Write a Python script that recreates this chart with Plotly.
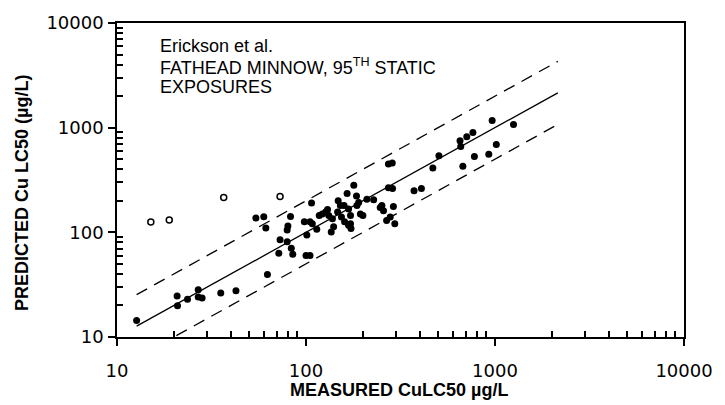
import plotly.graph_objects as go

# Filled points: measured (x) vs predicted (y), µg/L
meas = [12.7, 20.8, 20.9, 23.6, 26.9, 26.9, 28.2, 35.4, 42.6, 54.3, 59.8, 61.3, 62.5,
        82.8, 107, 80.2, 79.5, 72.9, 79.5, 83.6, 71.8, 85.1, 100, 105, 101, 98, 105,
        108, 114, 117.5, 122, 127, 132, 130, 138, 136, 147, 148, 154, 160, 165, 159,
        168, 172, 179, 185, 186, 190, 194, 200, 168, 173, 140, 228, 252, 257, 152,
        172, 279, 295, 267, 247, 290, 210, 273, 286, 273, 287, 373, 408, 469, 505,
        676, 653, 659, 709, 764, 778, 927, 966, 1016, 1253]
pred = [14.4, 24.6, 19.9, 22.9, 28.2, 24.1, 23.6, 26.3, 27.6, 137, 141, 110, 39.6,
        142, 191, 115, 105, 85, 81.5, 70.5, 63.2, 61.9, 60.1, 60.1, 94.2, 126, 126,
        121, 107, 145, 150, 156, 145, 165, 135, 101, 156, 200, 140, 126, 235, 180,
        167, 145, 281, 223, 180, 193, 150, 145, 117, 109, 113, 205, 180, 161, 180,
        121, 140, 121, 130, 173, 177, 207, 449, 459, 267, 262, 249, 262, 412, 538,
        428, 750, 659, 818, 897, 531, 557, 1172, 692, 1075]

# Open circles (outliers)
out_meas = [15.1, 18.9, 36.7, 72.9]
out_pred = [125.6, 131, 215, 220]

# 1:1 line and factor-of-two bounds
line_x = [12.7, 2150]
line_y = [12.7, 2150]
upper_x = [12.7, 2150]
upper_y = [25.4, 4300]
lower_x = [20.6, 2150]
lower_y = [10.3, 1075]

# Tick labels
major_vals = [10, 100, 1000, 10000]
major_text = ["10", "100", "1000", "10000"]
minor_vals = [m * d for d in (10, 100, 1000) for m in range(2, 10)]

fig = go.Figure()
lw = 1.3
fig.add_trace(go.Scatter(x=line_x, y=line_y, mode="lines",
                         line=dict(color="black", width=lw)))
fig.add_trace(go.Scatter(x=upper_x, y=upper_y, mode="lines",
                         line=dict(color="black", width=lw, dash="12px,8px")))
fig.add_trace(go.Scatter(x=lower_x, y=lower_y, mode="lines",
                         line=dict(color="black", width=lw, dash="12px,8px")))
fig.add_trace(go.Scatter(x=meas, y=pred, mode="markers",
                         marker=dict(color="black", size=7, line=dict(width=0))))
fig.add_trace(go.Scatter(x=out_meas, y=out_pred, mode="markers",
                         marker=dict(color="white", size=6,
                                     line=dict(color="black", width=1.5))))

tickfont = dict(family="DejaVu Sans", size=18, color="black")
axis_common = dict(
    type="log", range=[1, 4], tickmode="array", tickvals=major_vals,
    ticktext=major_text, gridcolor="rgba(0,0,0,0)",
    showline=True, linecolor="black", linewidth=1.5, mirror=True,
    ticks="outside", ticklen=7, tickwidth=1.5, tickcolor="black",
    tickfont=tickfont,
    minor=dict(ticks="inside", ticklen=6, tickwidth=1.5, tickcolor="black",
               tickmode="array", tickvals=minor_vals,
               gridcolor="rgba(0,0,0,0)"),
)
fig.update_xaxes(ticklabelstandoff=10, **axis_common)
fig.update_yaxes(ticklabelstandoff=1, **axis_common)

W, H = 725, 405
L, R, T, B = 117, 34, 17, 68
pw, ph = W - L - R, H - T - B

ann_font = dict(family="Liberation Sans, Arial", size=18, color="black")

def px(x):
    return (x - L) / pw

def py(y):
    return (H - B - y) / ph

annotations = [
    dict(text="Erickson et al.", x=px(158), y=py(40.7)),
    dict(text="FATHEAD MINNOW, 95<sup>TH</sup> STATIC", x=px(158), y=py(61.5)),
    dict(text="EXPOSURES", x=px(158), y=py(82)),
]
for a in annotations:
    a.update(xref="paper", yref="paper", xanchor="left", yanchor="middle",
             showarrow=False, font=ann_font)

title_font = dict(family="Liberation Sans, Arial", size=18, color="black")
annotations.append(dict(text="<b>MEASURED CuLC50 µg/L</b>", x=px(402), y=py(391),
                        xref="paper", yref="paper", xanchor="center",
                        yanchor="middle", showarrow=False, font=title_font))
annotations.append(dict(text="<b>PREDICTED Cu LC50 (µg/L)</b>", x=px(21), y=py(190),
                        xref="paper", yref="paper", xanchor="center",
                        yanchor="middle", showarrow=False, textangle=-90,
                        font=title_font))

fig.update_layout(
    width=W, height=H,
    margin=dict(l=L, r=R, t=T, b=B),
    paper_bgcolor="white", plot_bgcolor="white",
    showlegend=False,
    annotations=annotations,
)

fig.write_html("out.html")
